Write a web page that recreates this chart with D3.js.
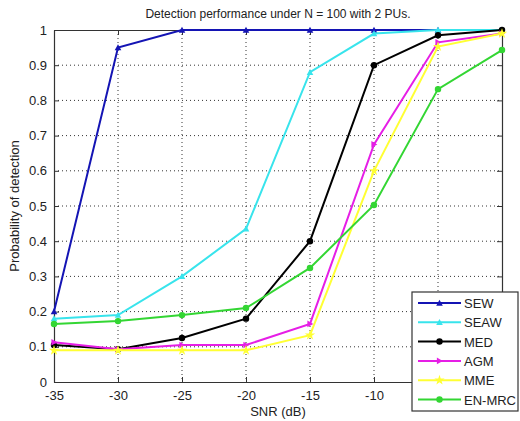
<!DOCTYPE html>
<html>
<head>
<meta charset="utf-8">
<script src="https://cdn.jsdelivr.net/npm/d3@7"></script>
<style>
  body { margin: 0; background: #fff; }
  text { font-family: "Liberation Sans", Arial, sans-serif; fill: #222; }
  .grid line { stroke: #000; stroke-dasharray: 1,3; stroke-opacity: 0.8; }
</style>
</head>
<body>
<svg id="chart" width="520" height="421"></svg>
<script>
// SNR values (dB)
var snr = [-35, -30, -25, -20, -15, -10, -5, 0];
var xTicks = [-35, -30, -25, -20, -15, -10, -5, 0];
var yTicks = [0, 0.1, 0.2, 0.3, 0.4, 0.5, 0.6, 0.7, 0.8, 0.9, 1];

var seriesNames = ["SEW", "SEAW", "MED", "AGM", "MME", "EN-MRC"];
var seriesColors = ["#1414b4", "#38e4ec", "#000000", "#e61ee6", "#ffff33", "#33d633"];
var seriesMarkers = ["triUp", "triUp", "circle", "triRight", "star", "circle"];

var sew = [0.20, 0.95, 1.00, 1.00, 1.00, 1.00, 1.00, 1.00];
var seaw = [0.18, 0.19, 0.30, 0.435, 0.88, 0.99, 1.00, 1.00];
var med = [0.105, 0.093, 0.125, 0.18, 0.40, 0.90, 0.985, 1.00];
var agm = [0.113, 0.093, 0.105, 0.105, 0.165, 0.675, 0.965, 0.99];
var mme = [0.09, 0.09, 0.09, 0.09, 0.133, 0.60, 0.953, 0.99];
var enmrc = [0.165, 0.173, 0.19, 0.21, 0.324, 0.503, 0.832, 0.943];
var seriesValues = [sew, seaw, med, agm, mme, enmrc];

var margin = {top: 30, right: 18, bottom: 39, left: 54},
    width = 520 - margin.left - margin.right,
    height = 421 - margin.top - margin.bottom;

var svg = d3.select("#chart");
var g = svg.append("g")
    .attr("transform", "translate(" + margin.left + "," + margin.top + ")");

var x = d3.scaleLinear().domain([-35, 0]).range([0, width]);
var y = d3.scaleLinear().domain([0, 1]).range([height, 0]);

// grid
g.append("g").attr("class", "grid")
    .selectAll("line").data(xTicks.slice(1, -1)).enter().append("line")
    .attr("x1", function (d) { return x(d); }).attr("x2", function (d) { return x(d); })
    .attr("y1", 0).attr("y2", height);
g.append("g").attr("class", "grid")
    .selectAll("line").data(yTicks.slice(1, -1)).enter().append("line")
    .attr("y1", function (d) { return y(d); }).attr("y2", function (d) { return y(d); })
    .attr("x1", 0).attr("x2", width);

// axes (ticks pointing inward, like matlab)
// -5 and 0 labels sit under the legend in the original, so leave them blank
var xAxis = g.append("g").attr("transform", "translate(0," + height + ")")
    .call(d3.axisBottom(x).tickValues(xTicks).tickSizeInner(-5).tickSizeOuter(0).tickPadding(9)
        .tickFormat(function (d) { return d > -10 ? "" : d; }));
var yAxis = g.append("g")
    .call(d3.axisLeft(y).tickValues(yTicks).tickSizeInner(-5).tickSizeOuter(0).tickPadding(7)
        .tickFormat(function (d) { return d; }));
g.append("g").call(d3.axisTop(x).tickValues(xTicks).tickSizeInner(-5).tickSizeOuter(0).tickFormat(""));
g.append("g").attr("transform", "translate(" + width + ",0)")
    .call(d3.axisRight(y).tickValues(yTicks).tickSizeInner(-5).tickSizeOuter(0).tickFormat(""));
g.selectAll(".domain").attr("stroke", "#333").attr("stroke-width", 1.2);
g.selectAll(".tick line").attr("stroke", "#333");
xAxis.selectAll("text").style("font-size", "13px").attr("fill", "#222");
yAxis.selectAll("text").style("font-size", "13px").attr("fill", "#222");

// marker shapes
function markerPath(type, s) {
    if (type === "triUp") return "M0," + (-s) + "L" + s + "," + (s * 0.8) + "L" + (-s) + "," + (s * 0.8) + "Z";
    if (type === "triRight") return "M" + s + ",0L" + (-s * 0.8) + "," + (-s) + "L" + (-s * 0.8) + "," + s + "Z";
    if (type === "star") return d3.symbol().type(d3.symbolStar).size(s * s * 3)();
    return d3.symbol().type(d3.symbolCircle).size(s * s * 3)();
}

var line = d3.line()
    .x(function (d, i) { return x(snr[i]); })
    .y(function (d) { return y(d); });

seriesValues.forEach(function (vals, k) {
    g.append("path")
        .attr("d", line(vals))
        .attr("fill", "none")
        .attr("stroke", seriesColors[k])
        .attr("stroke-width", 2);
    g.selectAll(".m" + k).data(vals).enter().append("path")
        .attr("class", "m" + k)
        .attr("transform", function (d, i) { return "translate(" + x(snr[i]) + "," + y(d) + ")"; })
        .attr("d", markerPath(seriesMarkers[k], 3.3))
        .attr("fill", seriesColors[k]);
});

// title and labels
svg.append("text")
    .attr("x", margin.left + width / 2).attr("y", 18)
    .attr("text-anchor", "middle").style("font-size", "12px")
    .text("Detection performance under N = 100 with 2 PUs.");
svg.append("text")
    .attr("x", margin.left + width / 2).attr("y", 416)
    .attr("text-anchor", "middle").style("font-size", "13px")
    .text("SNR (dB)");
svg.append("text")
    .attr("transform", "translate(19," + (margin.top + height / 2) + ") rotate(-90)")
    .attr("text-anchor", "middle").style("font-size", "13px")
    .text("Probability of detection");

// legend
var legend = svg.append("g").attr("transform", "translate(412,292)");
legend.append("rect")
    .attr("width", 106).attr("height", 119)
    .attr("fill", "#fff").attr("stroke", "#333").attr("stroke-width", 1.2);
seriesNames.forEach(function (name, k) {
    var ly = 11 + k * 19.3;
    legend.append("line")
        .attr("x1", 6).attr("x2", 49).attr("y1", ly).attr("y2", ly)
        .attr("stroke", seriesColors[k]).attr("stroke-width", 2);
    legend.append("path")
        .attr("transform", "translate(27.5," + ly + ")")
        .attr("d", markerPath(seriesMarkers[k], 3.3))
        .attr("fill", seriesColors[k]);
    legend.append("text")
        .attr("x", 52).attr("y", ly + 5)
        .style("font-size", "13px")
        .text(name);
});
</script>
</body>
</html>
